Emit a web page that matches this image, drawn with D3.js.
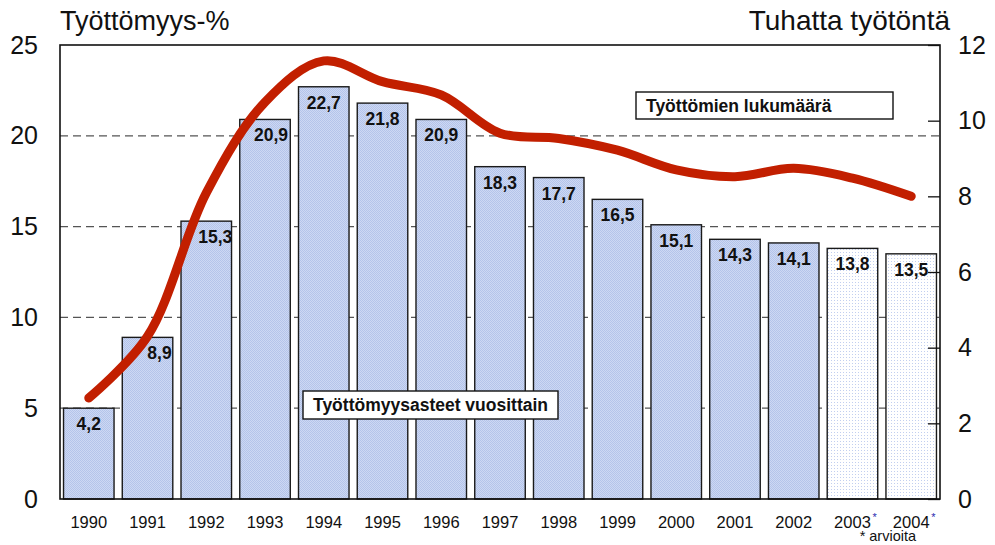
<!DOCTYPE html>
<html>
<head>
<meta charset="utf-8">
<script src="https://cdn.jsdelivr.net/npm/d3@7"></script>
<style>
  body { margin: 0; background: #fff; }
  svg { display: block; font-family: "Liberation Sans", Arial, sans-serif; }
</style>
</head>
<body>
<main></main>
<script>
//chart data
const years = ['1990','1991','1992','1993','1994','1995','1996','1997','1998','1999','2000','2001','2002','2003','2004'];
const rateLabels = ['4,2','8,9','15,3','20,9','22,7','21,8','20,9','18,3','17,7','16,5','15,1','14,3','14,1','13,8','13,5'];
//bar heights as drawn (the 1990 bar reaches the 5 line)
const rateBars = [5.0, 8.9, 15.3, 20.9, 22.7, 21.8, 20.9, 18.3, 17.7, 16.5, 15.1, 14.3, 14.1, 13.8, 13.5];
//unemployed, thousands (right axis)
const unemployed = [2.67, 4.3, 8.09, 10.49, 11.58, 11.03, 10.68, 9.67, 9.53, 9.22, 8.70, 8.52, 8.74, 8.48, 8.0];
const estimated = ['2003','2004'];
const leftTicks = [0, 5, 10, 15, 20, 25];
const rightTicks = [0, 2, 4, 6, 8, 10, 12];

(function(){
  const width = 995, height = 545;
  const left = 60, right = 940, top = 45, bottom = 499;
  const lineWidth = 9;

  const svg = d3.select("main")
  .append("svg")
  .attr("width", width)
  .attr("height", height);

  //fill patterns for the bars
  const defs = svg.append("defs");
  const solid = defs.append("pattern")
  .attr("id", "solidFill")
  .attr("patternUnits", "userSpaceOnUse")
  .attr("width", 2)
  .attr("height", 2);
  solid.append("rect").attr("width", 2).attr("height", 2).attr("fill", "#cdd8f3");
  solid.append("rect").attr("width", 1).attr("height", 1).attr("fill", "#b4c4ea");
  solid.append("rect").attr("x", 1).attr("y", 1).attr("width", 1).attr("height", 1).attr("fill", "#b4c4ea");

  const light = defs.append("pattern")
  .attr("id", "lightFill")
  .attr("patternUnits", "userSpaceOnUse")
  .attr("width", 3)
  .attr("height", 3);
  light.append("rect").attr("width", 3).attr("height", 3).attr("fill", "#ffffff");
  light.append("rect").attr("width", 1).attr("height", 1).attr("fill", "#c2cfef");

  //scales
  const x = d3.scaleBand()
  .domain(years)
  .range([left, right])
  .paddingInner(0.14)
  .paddingOuter(0.06);

  const yLeft = d3.scaleLinear()
  .domain([0, 25])
  .range([bottom, top]);

  const yRight = d3.scaleLinear()
  .domain([0, 12])
  .range([bottom, top]);

  //dashed grid lines
  svg.append("g")
  .selectAll("line")
  .data(leftTicks.filter(d => d > 0 && d < 25))
  .enter()
  .append("line")
  .attr("x1", left)
  .attr("x2", right)
  .attr("y1", d => yLeft(d))
  .attr("y2", d => yLeft(d))
  .attr("stroke", "#555")
  .attr("stroke-width", 1.3)
  .attr("stroke-dasharray", "8,5");

  //bars
  svg.append("g")
  .selectAll("rect")
  .data(years)
  .enter()
  .append("rect")
  .attr("x", d => x(d))
  .attr("width", x.bandwidth())
  .attr("y", (d, i) => yLeft(rateBars[i]))
  .attr("height", (d, i) => bottom - yLeft(rateBars[i]))
  .attr("fill", d => estimated.includes(d) ? "url(#lightFill)" : "url(#solidFill)")
  .attr("stroke", "#1a1a1a")
  .attr("stroke-width", 1.4);

  //bar value labels
  const valueLabels = svg.append("g")
  .selectAll("text")
  .data(years)
  .enter()
  .append("text")
  .attr("x", d => x(d) + x.bandwidth() / 2)
  .attr("y", (d, i) => yLeft(rateBars[i]) + 22)
  .attr("text-anchor", "middle")
  .attr("font-size", 17.5)
  .attr("font-weight", "bold")
  .attr("fill", "#111")
  .text((d, i) => rateLabels[i]);

  //frame
  svg.append("rect")
  .attr("x", left)
  .attr("y", top)
  .attr("width", right - left)
  .attr("height", bottom - top)
  .attr("fill", "none")
  .attr("stroke", "#111")
  .attr("stroke-width", 1.6);

  //left axis
  const leftAxis = svg.append("g")
  .attr("transform", "translate(" + left + ",0)")
  .call(d3.axisLeft(yLeft).tickValues(leftTicks).tickSize(0).tickPadding(22));
  leftAxis.select(".domain").remove();
  leftAxis.selectAll("text")
  .attr("font-size", 25)
  .attr("font-family", "Liberation Sans, Arial, sans-serif")
  .attr("fill", "#111");

  //right axis, ticks point into the plot
  const rightAxis = svg.append("g")
  .attr("transform", "translate(" + right + ",0)")
  .call(d3.axisRight(yRight).tickValues(rightTicks).tickSize(-12).tickPadding(18));
  rightAxis.select(".domain").remove();
  rightAxis.selectAll("line").attr("stroke", "#111").attr("stroke-width", 1.3);
  rightAxis.selectAll("text")
  .attr("font-size", 25)
  .attr("font-family", "Liberation Sans, Arial, sans-serif")
  .attr("fill", "#111");

  //year labels
  const xAxis = svg.append("g")
  .attr("transform", "translate(0," + bottom + ")")
  .call(d3.axisBottom(x).tickSize(0).tickPadding(17));
  xAxis.select(".domain").remove();
  xAxis.selectAll("text")
  .attr("font-size", 16.5)
  .attr("font-family", "Liberation Sans, Arial, sans-serif")
  .attr("fill", "#111");

  //asterisks for estimated years
  svg.append("g")
  .selectAll("text")
  .data(estimated)
  .enter()
  .append("text")
  .attr("x", d => x(d) + x.bandwidth() / 2 + 20)
  .attr("y", 521)
  .attr("font-size", 11)
  .attr("fill", "#2b2bb0")
  .text("*");

  svg.append("text")
  .attr("x", (x(estimated[0]) + x(estimated[1]) + x.bandwidth()) / 2 + 6)
  .attr("y", 541)
  .attr("text-anchor", "middle")
  .attr("font-size", 14.5)
  .attr("fill", "#111")
  .text("* arvioita");

  //unemployed line
  const line = d3.line()
  .x((d, i) => x(years[i]) + x.bandwidth() / 2)
  .y(d => yRight(d))
  .curve(d3.curveCatmullRom.alpha(0.5));

  const path = svg.append("path")
  .datum(unemployed)
  .attr("d", line)
  .attr("fill", "none")
  .attr("stroke", "#c21f00")
  .attr("stroke-width", lineWidth)
  .attr("stroke-linecap", "round")
  .attr("stroke-linejoin", "round");

  //nudge value labels to the right where the line runs over them
  const node = path.node();
  const total = node.getTotalLength();
  const samples = d3.range(0, total, 1).map(l => node.getPointAtLength(l));
  valueLabels.each(function(){
    const box = this.getBBox();
    const pad = lineWidth / 2 + 1;
    let shift = 0;
    const hits = s => samples.some(p =>
      p.x > box.x + s - pad && p.x < box.x + s + box.width + pad &&
      p.y > box.y + 3 - pad && p.y < box.y + box.height - 3 + pad);
    while (shift < 12 && hits(shift)) shift += 1;
    if (shift > 0) d3.select(this).attr("x", +d3.select(this).attr("x") + shift);
  });

  //legend boxes
  const boxes = [
    {x: 636, y: 92, w: 257, h: 27, label: "Työttömien lukumäärä"},
    {x: 303, y: 391, w: 255, h: 28, label: "Työttömyysasteet vuosittain"}
  ];
  const box = svg.append("g")
  .selectAll("g")
  .data(boxes)
  .enter()
  .append("g");
  box.append("rect")
  .attr("x", d => d.x)
  .attr("y", d => d.y)
  .attr("width", d => d.w)
  .attr("height", d => d.h)
  .attr("fill", "#fff")
  .attr("stroke", "#111")
  .attr("stroke-width", 1.4);
  box.append("text")
  .attr("x", d => d.x + 10)
  .attr("y", d => d.y + d.h / 2 + 6)
  .attr("font-size", 17.5)
  .attr("font-weight", "bold")
  .attr("fill", "#111")
  .text(d => d.label);

  //axis titles
  svg.append("text")
  .attr("x", 60)
  .attr("y", 30)
  .attr("font-size", 27)
  .attr("fill", "#111")
  .text("Työttömyys-%");

  svg.append("text")
  .attr("x", 950)
  .attr("y", 30)
  .attr("text-anchor", "end")
  .attr("font-size", 28)
  .attr("fill", "#111")
  .text("Tuhatta työtöntä");
})();
</script>
</body>
</html>
